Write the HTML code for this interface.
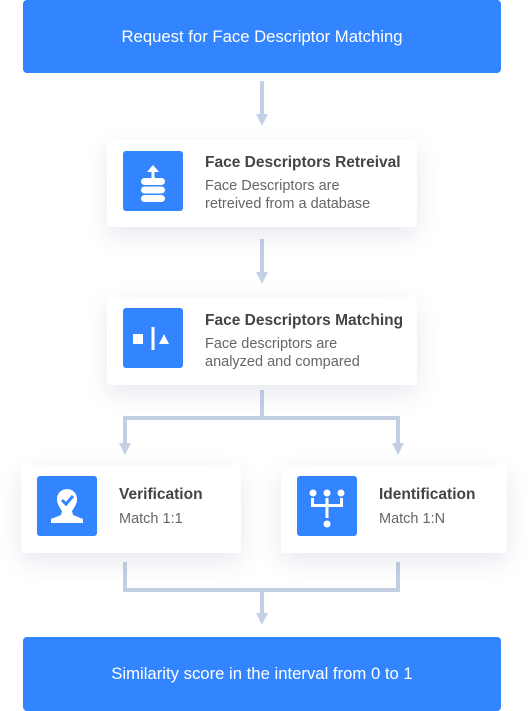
<!DOCTYPE html>
<html><head><meta charset="utf-8"><style>
body{margin:0;width:530px;height:711px;background:#fff;overflow:hidden;font-family:"Liberation Sans",sans-serif;position:relative}
.blue{position:absolute;left:23px;width:478px;height:73px;background:#3384ff;border-radius:4px;color:#fff;font-size:16.7px;display:flex;align-items:center;justify-content:center}
.card{position:absolute;background:#fff;border-radius:3px;box-shadow:0 8px 24px rgba(60,80,120,0.13)}
.ic{position:absolute;left:16px;top:11px;width:60px;height:60px;background:#3384ff;border-radius:3px}
.t{position:absolute;font-weight:bold;font-size:15.5px;color:#444}
.s{position:absolute;font-size:14.5px;color:#666;line-height:18px}
svg.l{position:absolute;left:0;top:0}
</style></head><body>
<svg class="l" width="530" height="711">
<g fill="#c3d0e4" stroke="#c3d0e4" stroke-width="4">
<line x1="262" y1="81" x2="262" y2="115"/>
<line x1="262" y1="239" x2="262" y2="273"/>
<polyline fill="none" points="125,446 125,418 398,418 398,446"/>
<line x1="262" y1="390" x2="262" y2="418"/>
<polyline fill="none" points="125,562 125,590 398,590 398,562"/>
<line x1="262" y1="590" x2="262" y2="614"/>
</g>
<g fill="#c3d0e4">
<polygon points="256,114 268,114 262,126"/>
<polygon points="256,272 268,272 262,284"/>
<polygon points="119,443 131,443 125,455"/>
<polygon points="392,443 404,443 398,455"/>
<polygon points="256,613 268,613 262,625"/>
</g>
</svg>
<div class="blue" style="top:0">Request for Face Descriptor Matching</div>
<div class="card" style="left:107px;top:140px;width:310px;height:87px">
<div class="ic"><svg width="60" height="60"><g fill="#fff"><rect x="18" y="27" width="24" height="7" rx="3.5"/><rect x="18" y="35.5" width="24" height="7" rx="3.5"/><rect x="18" y="44" width="24" height="7" rx="3.5"/><rect x="28.5" y="17" width="3" height="10"/><polygon points="24,21 30,14 36,21"/></g></svg></div>
<div class="t" style="left:98px;top:14px">Face Descriptors Retreival</div>
<div class="s" style="left:98px;top:37px">Face Descriptors are<br>retreived from a database</div>
</div>
<div class="card" style="left:107px;top:297px;width:310px;height:88px">
<div class="ic"><svg width="60" height="60"><g fill="#fff"><rect x="10" y="26" width="10" height="10"/><rect x="28.5" y="19" width="3" height="23"/><polygon points="36,36 46,36 41,26"/></g></svg></div>
<div class="t" style="left:98px;top:15px">Face Descriptors Matching</div>
<div class="s" style="left:98px;top:38px">Face descriptors are<br>analyzed and compared</div>
</div>
<div class="card" style="left:21px;top:465px;width:220px;height:88px">
<div class="ic"><svg width="60" height="60"><g fill="#fff"><path d="M30 13a10 10 0 0 1 10 10c0 5-3 9-5 12l1 4 10 4v4H14v-4l10-4 1-4c-2-3-5-7-5-12a10 10 0 0 1 10-10z"/></g><path d="M25 24l4 4 7-8" stroke="#3384ff" stroke-width="3" fill="none"/></svg></div>
<div class="t" style="left:98px;top:21px">Verification</div>
<div class="s" style="left:98px;top:45px">Match 1:1</div>
</div>
<div class="card" style="left:281px;top:465px;width:226px;height:88px">
<div class="ic"><svg width="60" height="60"><g fill="#fff"><circle cx="16" cy="17" r="3.5"/><circle cx="30" cy="17" r="3.5"/><circle cx="44" cy="17" r="3.5"/><circle cx="30" cy="48" r="3.5"/><rect x="14" y="22" width="3" height="7"/><rect x="43" y="22" width="3" height="7"/><rect x="28.5" y="22" width="3" height="20"/><rect x="14" y="28" width="32" height="3"/></g></svg></div>
<div class="t" style="left:98px;top:21px">Identification</div>
<div class="s" style="left:98px;top:45px">Match 1:N</div>
</div>
<div class="blue" style="top:637px;height:74px">Similarity score in the interval from 0 to 1</div>
</body></html>
